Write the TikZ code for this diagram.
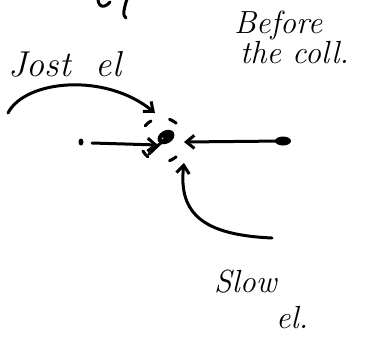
\documentclass[tikz,border=0pt]{standalone}
\usetikzlibrary{arrows.meta,shapes.geometric}
\begin{document}
\begin{tikzpicture}[x=1pt,y=-1pt,
  pen/.style={line width=3pt,line cap=round,line join=round},
  hand/.style={font=\fontsize{32}{36}\selectfont\itshape,inner sep=0pt,anchor=base west},
  tip/.style={-{Straight Barb[length=8pt,width=13pt,line width=3pt]}}]
\useasboundingbox (0,0) rectangle (378,338);
% clipped fragment at top
\begin{scope}
\clip (0,0) rectangle (378,338);
\draw[pen] (98,-4) .. controls (97,6) and (103,10) .. (110,2);
\draw[pen] (128,-4) .. controls (124,8) and (122,16) .. (126,18);
\end{scope}
% labels
\node[hand,font=\fontsize{36}{40}\selectfont\itshape] (fast) at (8,76) {Jost\ \ el};
\node[hand] (before1) at (234,33) {Before};
\node[hand] (before2) at (240,63) {the coll.};
\node[hand] (slow1) at (214,292) {Slow};
\node[hand] (slow2) at (276,328) {el.};
% particles
\node[fill,ellipse,minimum width=5pt,minimum height=7pt,inner sep=0pt] (ldot) at (81,142) {};
\node[fill,ellipse,minimum width=16pt,minimum height=9pt,inner sep=0pt] (rdot) at (283,141) {};
\fill[rotate around={30:(166,137)}] (166,137) ellipse [x radius=9pt,y radius=6.5pt];
\fill[white] (163,139) circle (1.4pt);
\draw[pen] (166,138) -- (149,154);
% dashed ring
\foreach \a in {140,60,230,300}{
  \draw[pen] (162,140) ++(\a-10:22) arc[start angle=\a-10,end angle=\a+10,radius=22];
}
% horizontal arrows
\coordinate (lend) at (158,145);
\coordinate (rend) at (184,142);
\draw[pen,tip] (92,143) -- (lend);
\draw[pen,tip] (rdot.center) -- (rend);
% curved arrows
\coordinate (ftail) at (8,113);
\coordinate (fhead) at (155,113);
\draw[pen,tip] (ftail) .. controls (25,80) and (105,72) .. (fhead);
\coordinate (stail) at (272,238);
\coordinate (shead) at (184,163);
\draw[pen,tip] (stail) .. controls (205,235) and (178,215) .. (shead);
\end{tikzpicture}
\end{document}
